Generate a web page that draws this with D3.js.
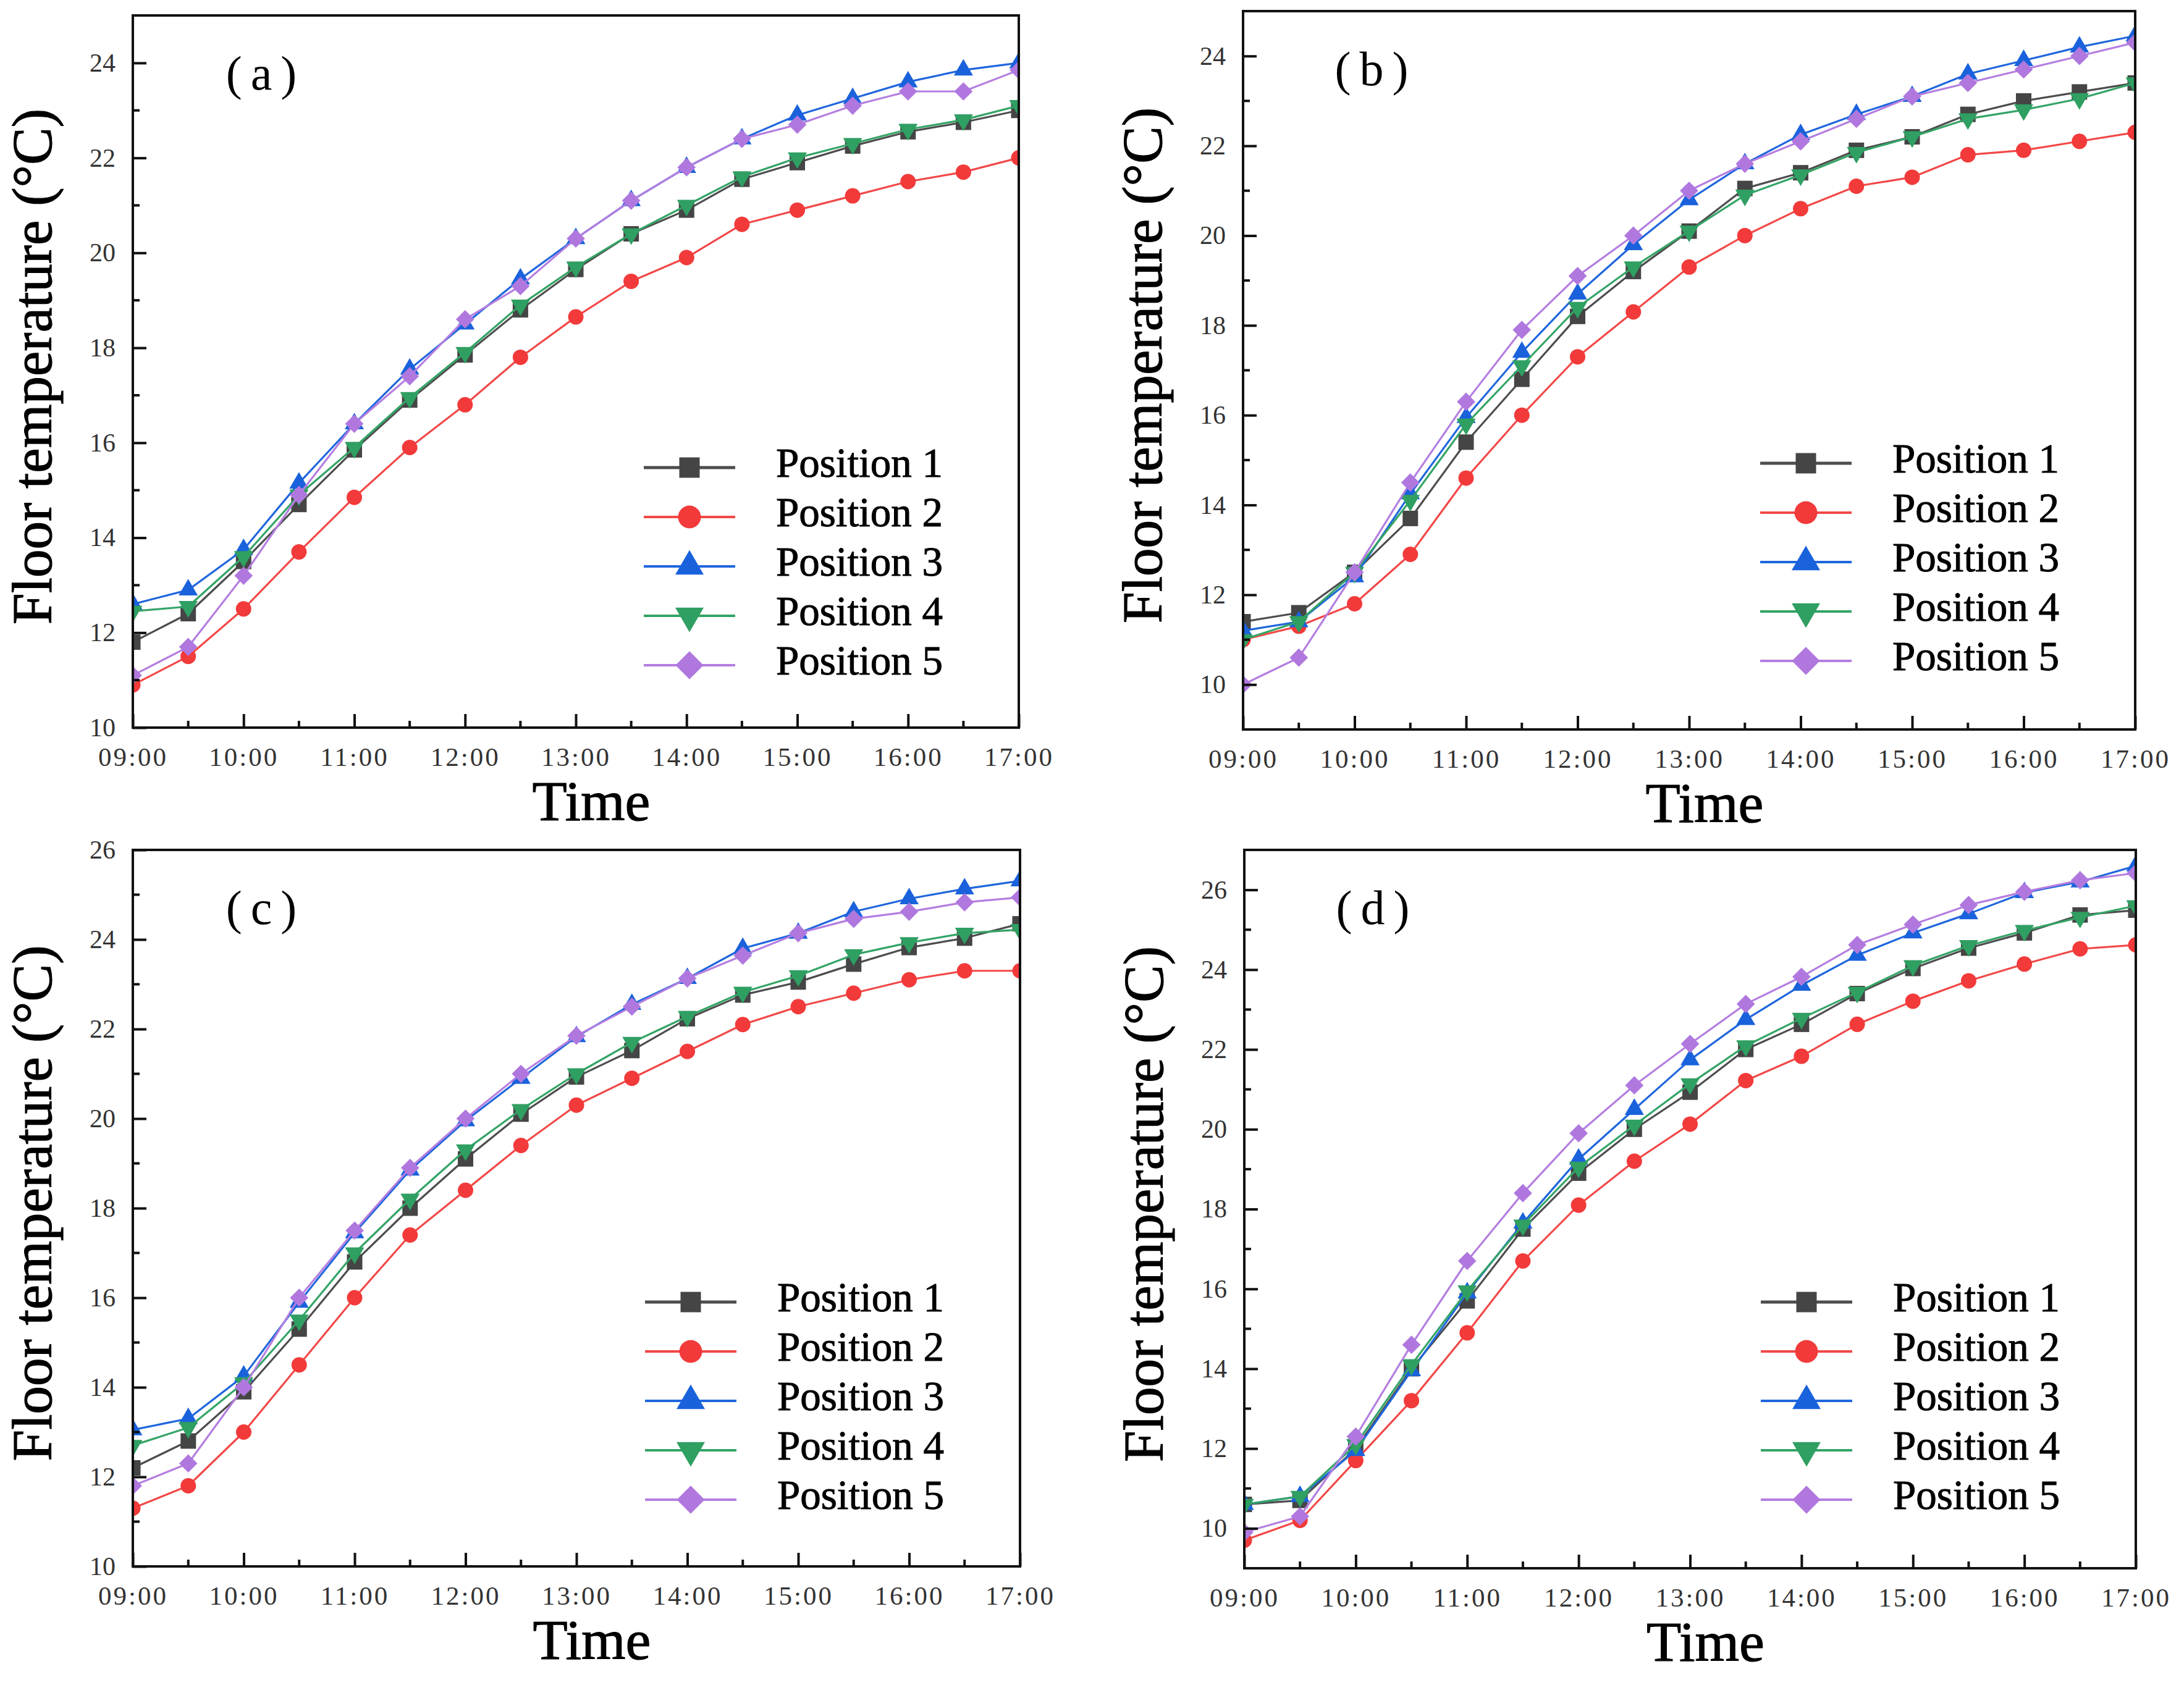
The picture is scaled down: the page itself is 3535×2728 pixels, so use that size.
<!DOCTYPE html>
<html><head><meta charset="utf-8">
<script src="https://cdn.jsdelivr.net/npm/d3@7/dist/d3.min.js"></script>
<style>body{margin:0;background:#fff;} svg{display:block;}</style>
</head><body>
<svg id="chart" width="3535" height="2728"></svg>
<script>
// ---------------- data ----------------
const times = ["09:00","09:30","10:00","10:30","11:00","11:30","12:00","12:30","13:00","13:30","14:00","14:30","15:00","15:30","16:00","16:30","17:00"];
const hourLabels = ["09:00","10:00","11:00","12:00","13:00","14:00","15:00","16:00","17:00"];
const seriesNames = ["Position 1","Position 2","Position 3","Position 4","Position 5"];
const panelLabels = ["(a)","(b)","(c)","(d)"];
const yDomains = [[10,25],[9,25],[10,26],[9,27]];
const yTicks = [[10,12,14,16,18,20,22,24],[10,12,14,16,18,20,22,24],[10,12,14,16,18,20,22,24,26],[10,12,14,16,18,20,22,24,26]];

// panel (a)
const a1 = [11.8,12.4,13.5,14.7,15.85,16.9,17.85,18.8,19.65,20.4,20.9,21.55,21.9,22.25,22.55,22.75,23.0];
const a2 = [10.9,11.5,12.5,13.7,14.85,15.9,16.8,17.8,18.65,19.4,19.9,20.6,20.9,21.2,21.5,21.7,22.0];
const a3 = [12.6,12.9,13.75,15.15,16.4,17.55,18.5,19.45,20.3,21.1,21.8,22.4,22.9,23.25,23.6,23.85,24.0];
const a4 = [12.45,12.55,13.6,14.9,15.9,16.95,17.9,18.9,19.7,20.4,21.0,21.6,22.0,22.3,22.6,22.8,23.1];
const a5 = [11.1,11.7,13.2,14.9,16.4,17.4,18.6,19.3,20.3,21.1,21.8,22.4,22.7,23.1,23.4,23.4,23.85];
// panel (b)
const b1 = [11.4,11.6,12.5,13.7,15.4,16.8,18.2,19.2,20.1,21.05,21.4,21.9,22.2,22.7,23.0,23.2,23.4];
const b2 = [11.0,11.3,11.8,12.9,14.6,16.0,17.3,18.3,19.3,20.0,20.6,21.1,21.3,21.8,21.9,22.1,22.3];
const b3 = [11.2,11.4,12.4,14.25,15.95,17.4,18.7,19.8,20.8,21.6,22.25,22.7,23.1,23.6,23.9,24.2,24.45];
const b4 = [11.0,11.4,12.5,14.1,15.8,17.1,18.4,19.3,20.1,20.9,21.35,21.85,22.2,22.6,22.8,23.05,23.4];
const b5 = [10.0,10.6,12.5,14.5,16.3,17.9,19.1,20.0,21.0,21.6,22.1,22.6,23.1,23.4,23.7,24.0,24.3];
// panel (c)
const c1 = [12.2,12.8,13.9,15.3,16.8,18.0,19.1,20.1,20.93,21.52,22.23,22.76,23.05,23.45,23.82,24.03,24.35];
const c2 = [11.3,11.8,13.0,14.5,16.0,17.4,18.4,19.4,20.3,20.9,21.5,22.1,22.5,22.8,23.1,23.3,23.3];
const c3 = [13.05,13.3,14.25,15.9,17.45,18.85,19.95,20.9,21.83,22.55,23.13,23.8,24.14,24.62,24.91,25.13,25.31];
const c4 = [12.7,13.1,14.1,15.5,17.0,18.2,19.3,20.2,21.0,21.7,22.28,22.82,23.19,23.66,23.93,24.14,24.22];
const c5 = [11.8,12.3,14.0,16.0,17.5,18.9,20.0,21.0,21.85,22.5,23.13,23.64,24.14,24.46,24.62,24.83,24.94];
// panel (d)
const d1 = [10.6,10.7,12.0,14.0,15.7,17.5,18.9,20.0,20.93,22.0,22.63,23.4,24.03,24.54,24.92,25.37,25.49];
const d2 = [9.7,10.2,11.7,13.2,14.9,16.7,18.1,19.2,20.13,21.22,21.83,22.63,23.21,23.72,24.14,24.52,24.62];
const d3v = [10.6,10.8,11.95,13.95,15.9,17.65,19.25,20.5,21.74,22.75,23.61,24.36,24.92,25.4,25.93,26.2,26.6];
const d4 = [10.6,10.8,12.1,14.1,15.95,17.6,19.05,20.1,21.14,22.09,22.78,23.43,24.1,24.6,24.98,25.31,25.6];
const d5 = [9.9,10.3,12.3,14.6,16.7,18.4,19.9,21.1,22.14,23.14,23.82,24.62,25.13,25.62,25.95,26.24,26.42];

const panelSeries = [[a1,a2,a3,a4,a5],[b1,b2,b3,b4,b5],[c1,c2,c3,c4,c5],[d1,d2,d3v,d4,d5]];

// ---------------- styles ----------------
const lineColors = ["#4d4d4d","#f24848","#1f66dd","#34a466","#b47ee0"];
const markColors = ["#454545","#f23a3a","#1a62dc","#2f9f62","#b078de"];
const boxes = [
  {l:215, r:1649, t:25,   b:1178},
  {l:2012,r:3456, t:18,   b:1181},
  {l:215, r:1651, t:1376, b:2536},
  {l:2014,r:3457, t:1376, b:2539}
];
const serif = "'Liberation Serif','Times New Roman',serif";
const plotSizes = {sq:25, r:12.5, tri:31, dia:21};
const legSizes  = {sq:33, r:18.5, tri:46, dia:32};

const svg = d3.select("#chart");

function markerPath(k, sz){
  if(k===0){ return d3.symbol(d3.symbolSquare, sz.sq*sz.sq)(); }
  if(k===1){ return d3.symbol(d3.symbolCircle, Math.PI*sz.r*sz.r)(); }
  if(k===2||k===3){ return d3.symbol(d3.symbolTriangle, Math.sqrt(3)/4*sz.tri*sz.tri)(); }
  return d3.symbol(d3.symbolSquare, sz.dia*sz.dia)();
}
function markerRot(k){ return k===3?180:(k===4?45:0); }

boxes.forEach((bx,pi)=>{
  const g = svg.append("g");
  const x = d3.scalePoint().domain(times).range([bx.l,bx.r]);
  const y = d3.scaleLinear().domain(yDomains[pi]).range([bx.b,bx.t]);

  const cid = "clip"+pi;
  svg.append("clipPath").attr("id",cid).append("rect")
    .attr("x",bx.l).attr("y",bx.t).attr("width",bx.r-bx.l).attr("height",bx.b-bx.t);

  // series
  const sg = g.append("g").attr("clip-path",`url(#${cid})`);
  const line = d3.line().x((d,i)=>x(times[i])).y(d=>y(d));
  panelSeries[pi].forEach((vals,k)=>{
    sg.append("path").attr("d",line(vals)).attr("fill","none")
      .attr("stroke",lineColors[k]).attr("stroke-width",3.2).attr("stroke-linejoin","round");
    sg.selectAll(null).data(vals).enter().append("path")
      .attr("d",markerPath(k,plotSizes))
      .attr("transform",(d,i)=>`translate(${x(times[i])},${y(d)}) rotate(${markerRot(k)})`)
      .attr("fill",markColors[k]);
  });

  // frame
  g.append("rect").attr("x",bx.l).attr("y",bx.t).attr("width",bx.r-bx.l).attr("height",bx.b-bx.t)
    .attr("fill","none").attr("stroke","#111").attr("stroke-width",4);

  // y axis (ticks inside)
  const [y0,y1] = yDomains[pi];
  const minorY = d3.range(Math.ceil(y0),Math.floor(y1)+1).filter(v=>v%2!==0);
  const yAxis = d3.axisLeft(y).tickValues(yTicks[pi]).tickSize(-22).tickPadding(50).tickFormat(d3.format("d"));
  const ya = g.append("g").attr("transform",`translate(${bx.l},0)`).call(yAxis);
  ya.select(".domain").remove();
  ya.selectAll(".tick line").attr("stroke","#111").attr("stroke-width",4);
  ya.selectAll(".tick text").style("font-family",serif).attr("font-size",42).attr("fill","#333").attr("x",-28);
  g.append("g").selectAll(null).data(minorY).enter().append("line")
    .attr("x1",bx.l).attr("x2",bx.l+11).attr("y1",d=>y(d)).attr("y2",d=>y(d))
    .attr("stroke","#111").attr("stroke-width",4);

  // x axis
  const xAxis = d3.axisBottom(x).tickValues(hourLabels).tickSize(-22).tickPadding(0);
  const xa = g.append("g").attr("transform",`translate(0,${bx.b})`).call(xAxis);
  xa.select(".domain").remove();
  xa.selectAll(".tick line").attr("stroke","#111").attr("stroke-width",4);
  xa.selectAll(".tick text").style("font-family",serif).attr("font-size",43).attr("fill","#333")
    .attr("letter-spacing",3).attr("y",62).attr("dy",0);
  const minorX = times.filter(t=>!hourLabels.includes(t));
  g.append("g").selectAll(null).data(minorX).enter().append("line")
    .attr("x1",d=>x(d)).attr("x2",d=>x(d)).attr("y1",bx.b).attr("y2",bx.b-11)
    .attr("stroke","#111").attr("stroke-width",4);

  // axis titles
  g.append("text").attr("x",(bx.l+bx.r)/2+25).attr("y",bx.b+150)
    .attr("text-anchor","middle").style("font-family",serif).attr("font-size",92)
    .attr("fill","#000").attr("stroke","#000").attr("stroke-width",1.2).text("Time");
  g.append("text").attr("transform",`translate(${bx.l-132},${(bx.t+bx.b)/2-8}) rotate(-90)`)
    .attr("text-anchor","middle").style("font-family",serif).attr("font-size",91)
    .attr("fill","#000").attr("stroke","#000").attr("stroke-width",1.2)
    .text("Floor temperature (°C)");

  // panel label
  g.append("text").attr("x",bx.l+215).attr("y",bx.t+120).attr("text-anchor","middle")
    .style("font-family",serif).attr("font-size",78).attr("letter-spacing",14).attr("fill","#000")
    .text(panelLabels[pi]);

  // legend
  const lx = bx.r-607, ly = bx.t+732, step = 80;
  const lg = g.append("g");
  seriesNames.forEach((nm,k)=>{
    const yy = ly + k*step;
    lg.append("line").attr("x1",lx).attr("x2",lx+148).attr("y1",yy).attr("y2",yy)
      .attr("stroke",lineColors[k]).attr("stroke-width",k===0?5:4);
    lg.append("path").attr("d",markerPath(k,legSizes))
      .attr("transform",`translate(${lx+74},${yy}) rotate(${markerRot(k)})`).attr("fill",markColors[k]);
    lg.append("text").attr("x",lx+214).attr("y",yy+15).style("font-family",serif).attr("font-size",67)
      .attr("fill","#000").attr("stroke","#000").attr("stroke-width",1).text(nm);
  });
});
</script>
</body></html>
